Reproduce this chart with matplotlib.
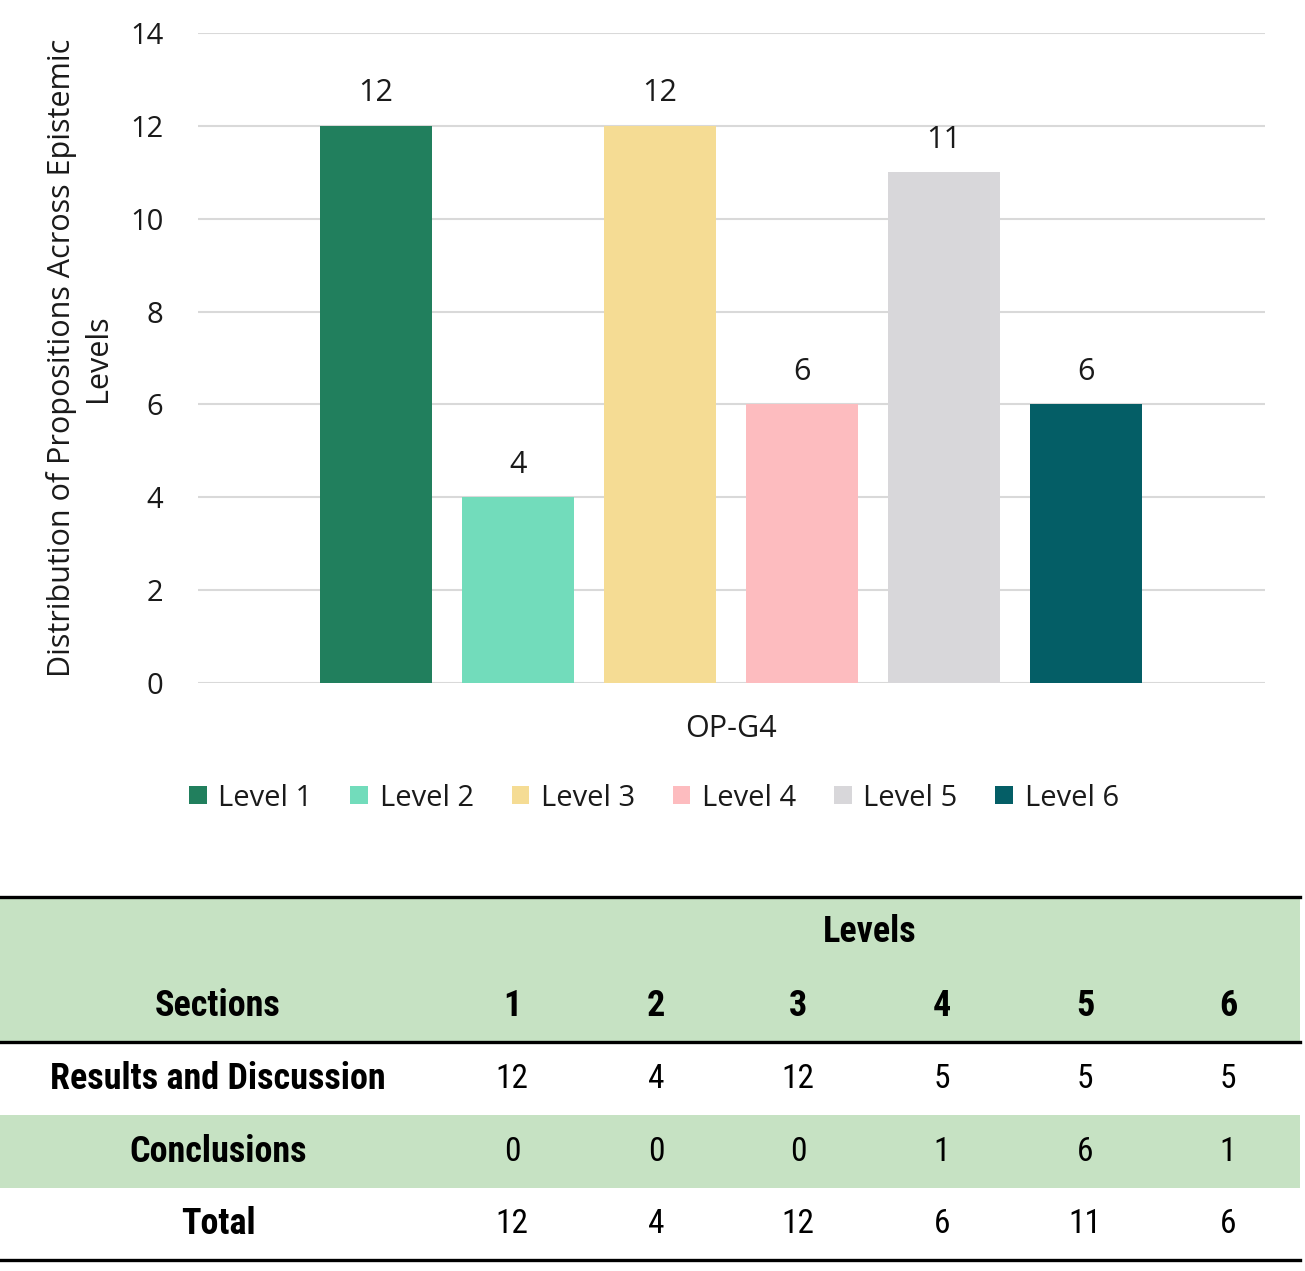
import matplotlib
matplotlib.use("Agg")
import matplotlib.pyplot as plt
from matplotlib import font_manager as fm
from matplotlib.patches import Rectangle

# ---------------- data ----------------
category = "OP-G4"
levels = ["Level 1", "Level 2", "Level 3", "Level 4", "Level 5", "Level 6"]
values = [12, 4, 12, 6, 11, 6]
colors = ["#217F5D", "#72DCBB", "#F5DC94", "#FDBCBF", "#D8D7DA", "#045E66"]
y_ticks = [0, 2, 4, 6, 8, 10, 12, 14]
y_label = "Distribution of Propositions Across Epistemic\nLevels"

table_header_levels = ["1", "2", "3", "4", "5", "6"]
row_names = ["Results and Discussion", "Conclusions", "Total"]
row_results = [12, 4, 12, 5, 5, 5]
row_conclusions = [0, 0, 0, 1, 6, 1]
row_total = [12, 4, 12, 6, 11, 6]


def pick(cands):
    for c in cands:
        try:
            fm.findfont(fm.FontProperties(family=c), fallback_to_default=False)
            return c
        except Exception:
            pass
    return "DejaVu Sans"

chart_font = pick(["Open Sans", "Lato", "Roboto"])
table_font = pick(["Liberation Sans Narrow", "Roboto Condensed", "Open Sans Condensed", "Lato", "Roboto"])
plt.rcParams["font.family"] = [chart_font, "DejaVu Sans"]

fig = plt.figure(figsize=(13.05, 12.71), dpi=100)

# ---------------- bar chart ----------------
W, H = 1305.0, 1271.0
ax = fig.add_axes([198 / W, 1 - 683 / H, (1265 - 198) / W, (683 - 33) / H])
x = list(range(len(values)))
bars = ax.bar(x, values, width=112 / 142, color=colors, label=levels, zorder=3)
for xi, v in zip(x, values):
    ax.text(xi, v + 0.38, str(v), ha="center", va="bottom", fontsize=22, color="#1a1a1a")
ax.set_xlim((198 - 376) / 142, (1265 - 376) / 142)
ax.set_ylim(0, 14)
ax.set_yticks(y_ticks)
ax.set_yticklabels([str(t) for t in y_ticks], fontsize=21, color="#1a1a1a")
ax.tick_params(axis="y", length=0, pad=25)
ax.set_xticks([2.5])
ax.set_xticklabels([category], fontsize=22, color="#1a1a1a")
ax.tick_params(axis="x", length=0, pad=22)
ax.yaxis.grid(True, color="#D9D9D9", linewidth=1.5, zorder=0)
for s in ax.spines.values():
    s.set_visible(False)
ax.set_ylabel(y_label, fontsize=22, color="#1a1a1a", linespacing=1.25)
ax.yaxis.set_label_coords(-0.080, 0.5)

leg = fig.legend(handles=bars, labels=levels, loc="center", ncol=6,
                 bbox_to_anchor=(654 / W, 1 - 798 / H), frameon=False,
                 fontsize=21, handlelength=0.6, handleheight=0.6,
                 columnspacing=1.3, handletextpad=0.4)
for t in leg.get_texts():
    t.set_color("#1a1a1a")

# ---------------- table ----------------
tax = fig.add_axes([0, 0, 1, 1], zorder=-1)
tax.set_xlim(0, W)
tax.set_ylim(H, 0)
tax.axis("off")
green = "#C6E2C3"
tax.add_patch(Rectangle((0, 897), 1300, 145, color=green, lw=0))
tax.add_patch(Rectangle((0, 1115), 1300, 73, color=green, lw=0))
for yy in (897, 1042, 1260):
    tax.plot([0, 1300], [yy, yy], color="black", lw=2.4)

col_x = [512, 656, 798, 942, 1085, 1228]
tkw = dict(family=[table_font, "DejaVu Sans"], color="black", ha="center", va="center")
tax.text(870, 932, "Levels", fontsize=26, weight="bold", **tkw)
tax.text(218, 1006, "Sections", fontsize=26, weight="bold", **tkw)
for cx, h in zip(col_x, table_header_levels):
    tax.text(cx, 1006, h, fontsize=26, weight="bold", **tkw)
rows = [row_results, row_conclusions, row_total]
row_y = [1079, 1152, 1224]
for name, vals, ry in zip(row_names, rows, row_y):
    tax.text(218, ry, name, fontsize=26, weight="bold", **tkw)
    for cx, v in zip(col_x, vals):
        tax.text(cx, ry, str(v), fontsize=24, **tkw)

fig.savefig("out.png", dpi=100)
